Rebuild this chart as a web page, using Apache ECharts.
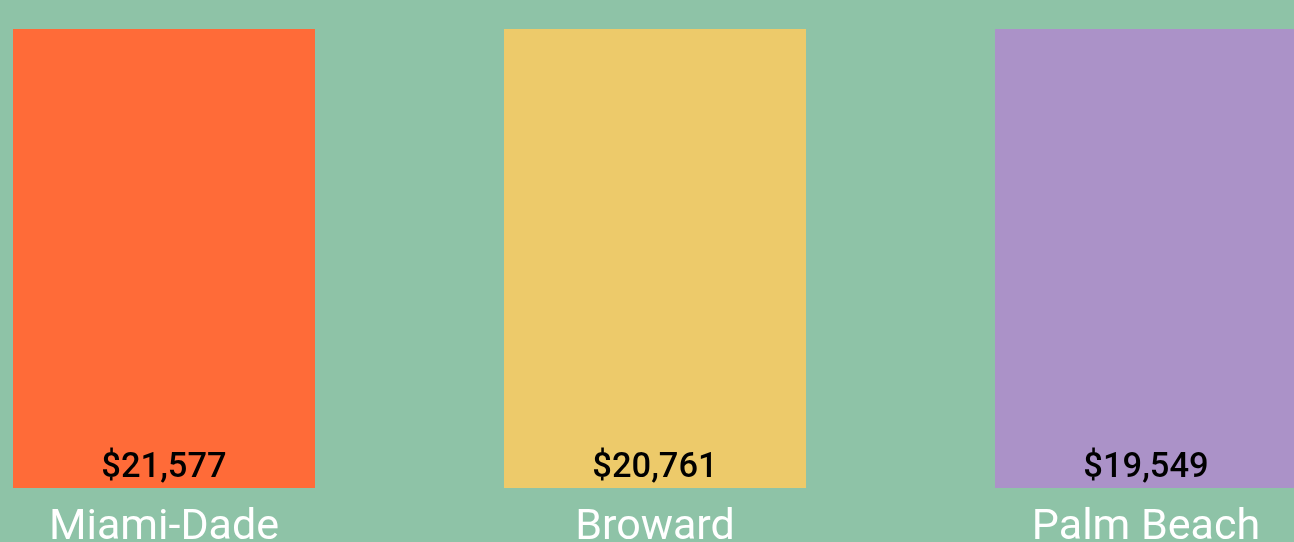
<!DOCTYPE html>
<html>
<head>
<meta charset="utf-8">
<script src="https://cdn.jsdelivr.net/npm/echarts@6/dist/echarts.min.js"></script>
<style>
  html, body { margin: 0; padding: 0; background: #8ec3a7; }
  #chart { width: 1294px; height: 542px; }
</style>
</head>
<body>
<div id="chart"></div>
<script>
const counties = ['Miami-Dade', 'Broward', 'Palm Beach']
const incomes = [21577, 20761, 19549]
const barColors = ['#ff6b38', '#edca6a', '#ab92c8']

const myChart = echarts.init(document.getElementById('chart'))

// each county gets its own grid so every bar fills its column
let grid = [], xAxis = [], yAxis = [], series = []
counties.forEach((name, i) => {
  grid.push({ left: 13 + 491 * i, width: 302, top: 29, bottom: 54, outerBoundsMode: 'none' })
  xAxis.push({
    type: 'category',
    gridIndex: i,
    data: [name],
    axisLine: { show: false },
    axisTick: { show: false },
    axisLabel: { color: '#fff', fontSize: 43, fontFamily: 'Roboto', margin: 19 }
  })
  yAxis.push({ type: 'value', gridIndex: i, min: 0, max: 'dataMax', show: false })
  series.push({
    type: 'bar',
    xAxisIndex: i,
    yAxisIndex: i,
    barWidth: '100%',
    data: [incomes[i]],
    itemStyle: { color: barColors[i] },
    label: {
      show: true,
      position: 'insideBottom',
      distance: 2,
      color: '#000',
      fontSize: 34.5,
      fontWeight: 500,
      fontFamily: 'Roboto',
      formatter: p => '$' + p.value.toLocaleString('en-US')
    }
  })
})

myChart.setOption({
  backgroundColor: '#8ec3a7',
  animation: false,
  grid,
  xAxis,
  yAxis,
  series
})
</script>
</body>
</html>
